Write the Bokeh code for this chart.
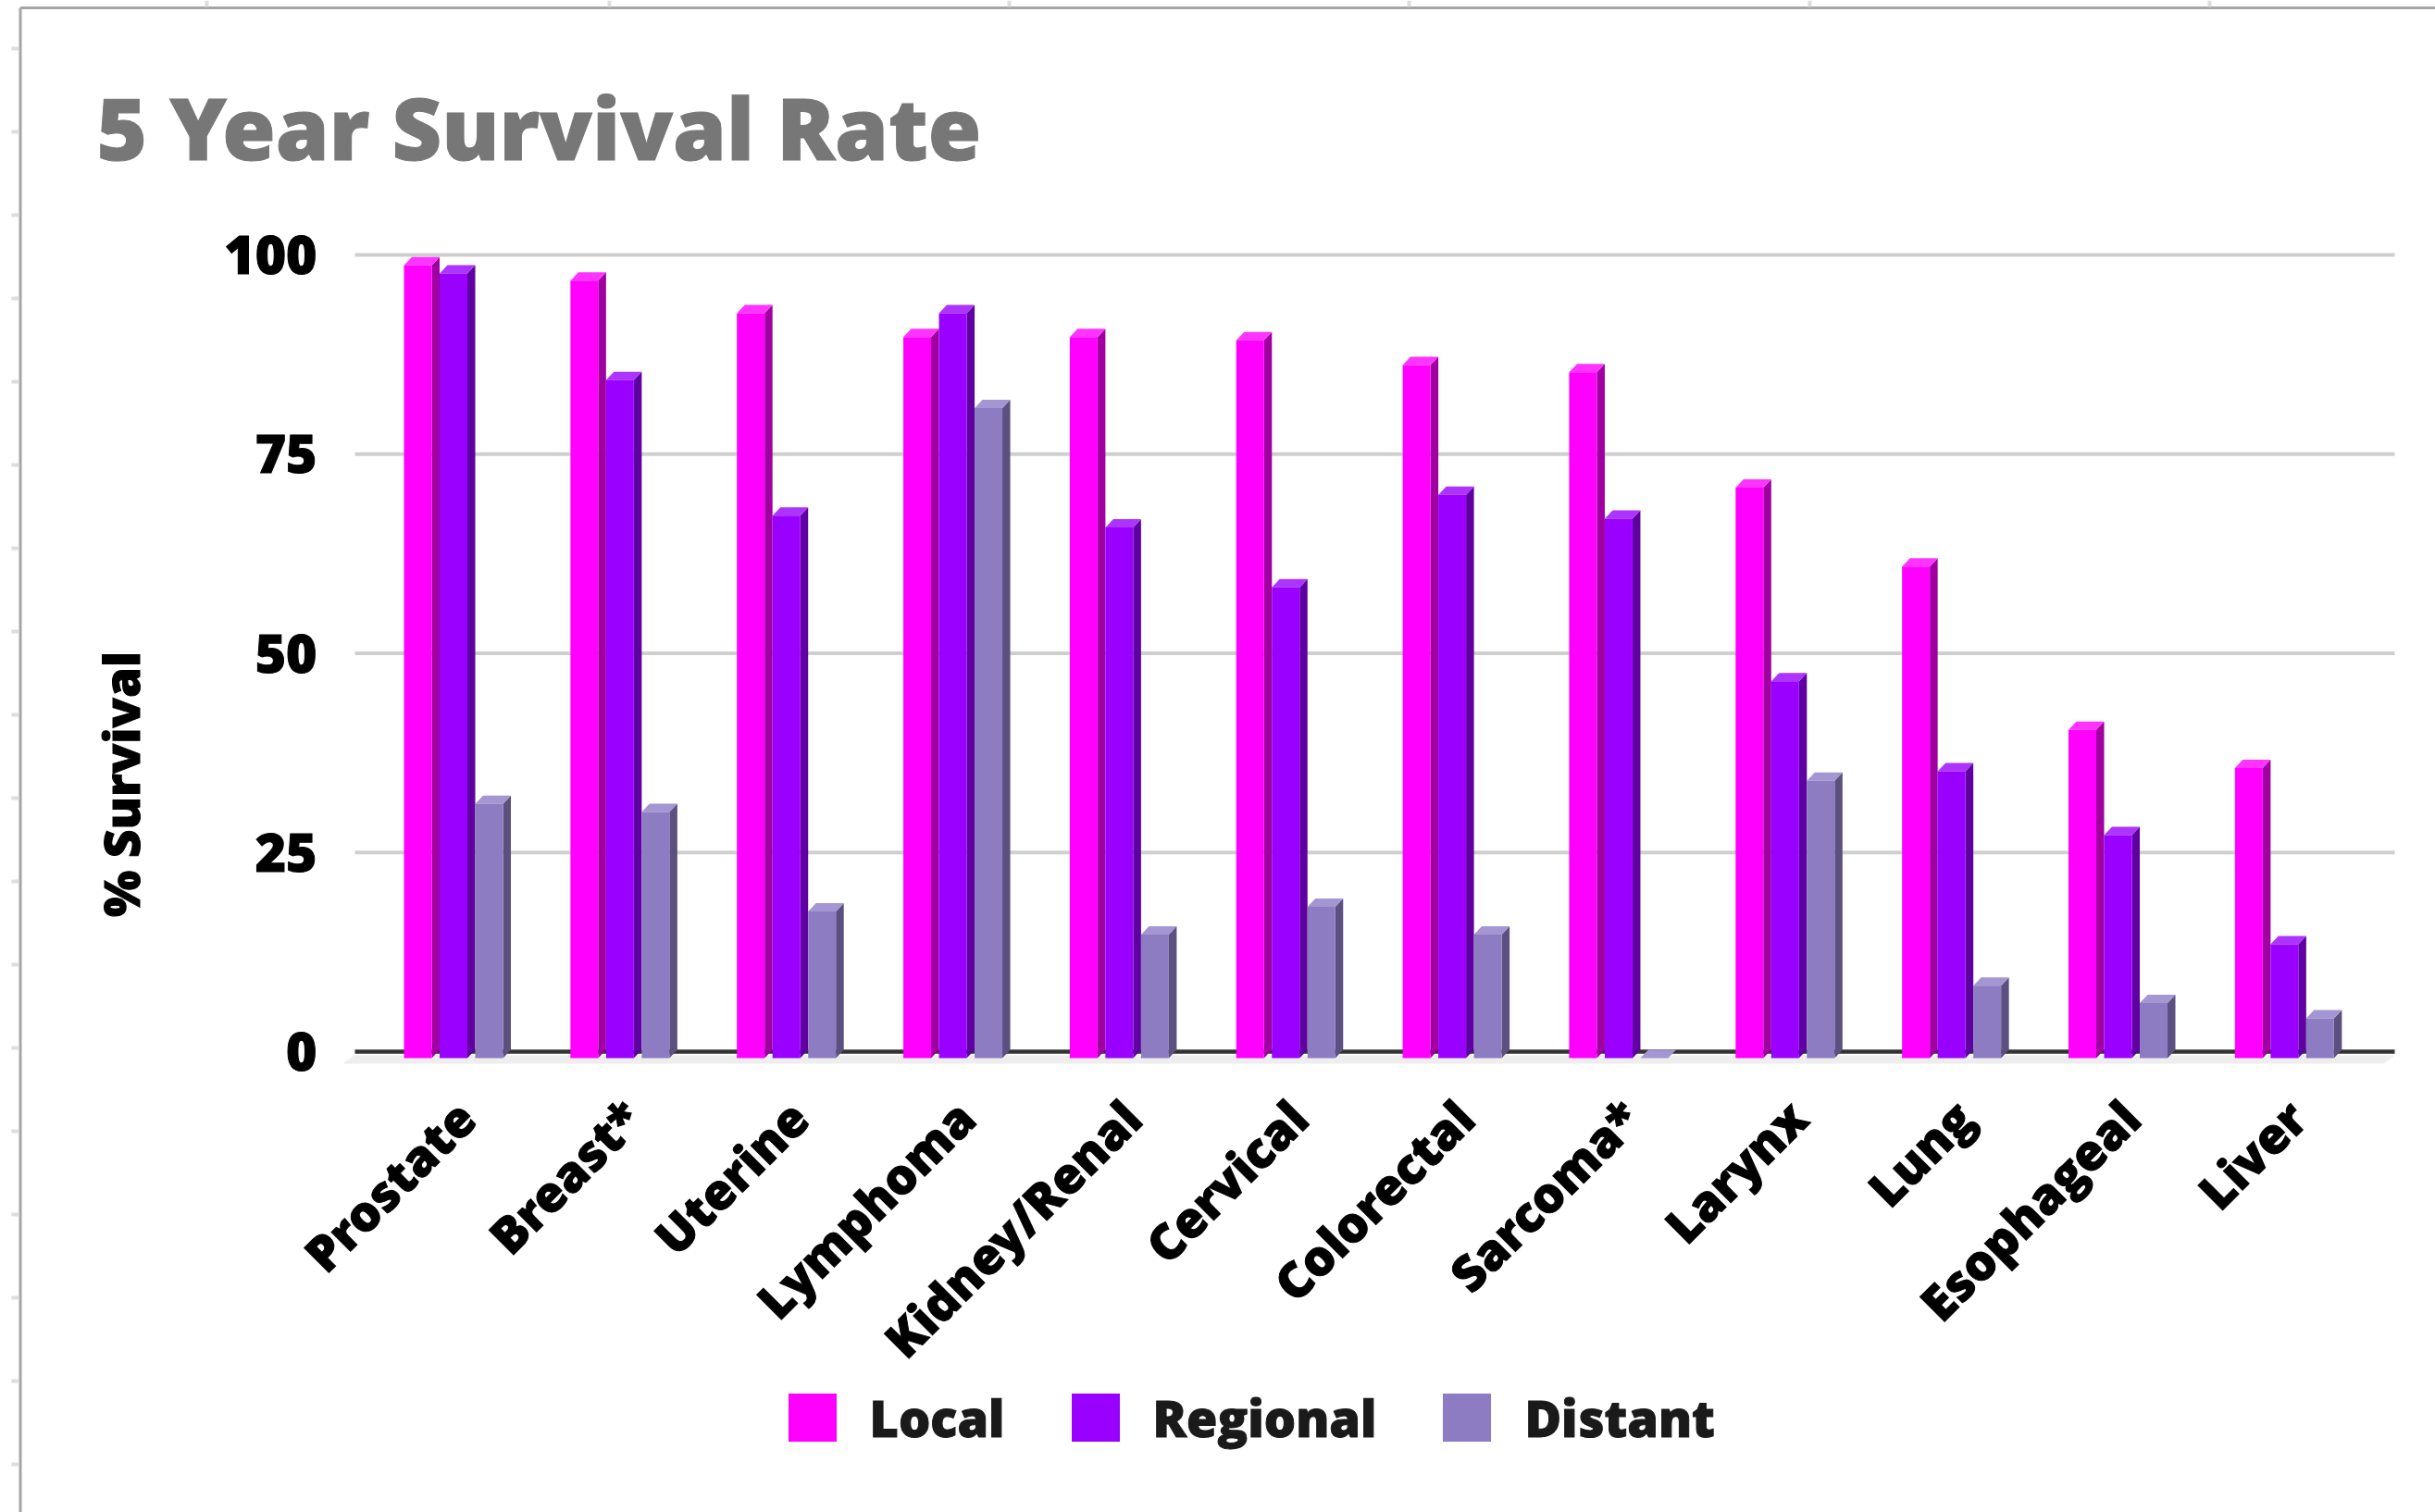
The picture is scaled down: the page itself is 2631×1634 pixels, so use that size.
from bokeh.plotting import figure
from bokeh.models import (Range1d, LinearAxis, FixedTicker, Label, Legend, LegendItem, ColumnDataSource)
from bokeh.embed import file_html
from bokeh.resources import INLINE
import math

categories = ["Prostate", "Breast*", "Uterine", "Lymphoma", "Kidney/Renal", "Cervical",
              "Colorectal", "Sarcoma*", "Larynx", "Lung", "Esophageal", "Liver"]
local = [99.5, 97.6, 93.5, 90.5, 90.5, 90.1, 87.0, 86.1, 71.6, 61.7, 41.2, 36.4]
regional = [98.5, 85.1, 68.1, 93.5, 66.6, 59.1, 70.7, 67.7, 47.3, 36.0, 28.0, 14.3]
distant = [31.9, 30.9, 18.4, 81.6, 15.5, 19.0, 15.5, 0.0, 34.8, 9.1, 6.9, 5.0]
y_ticks = [0, 25, 50, 75, 100]
series = [("Local", local, "#ff00ff", "#a000a0", "#ff33ff"),
          ("Regional", regional, "#9900ff", "#5f00a0", "#ad33ff"),
          ("Distant", distant, "#8e7cc3", "#5b5080", "#a496d2")]

W, H = 2631, 1634
PX_X, PX_Y = 179.85, 8.61          # pixels per group, pixels per percentage point
X0, Y0 = 503.0, 1136.0             # pixel position of group 0 label anchor, of value 0
FONT = "Open Sans ExtraBold"

def dx(px):
    return (px - X0) / PX_X

def dy(py):
    return (Y0 - py) / PX_Y

p = figure(width=W, height=H, output_backend="svg", toolbar_location=None,
           x_range=Range1d(dx(0), dx(W)), y_range=Range1d(dy(H), dy(0)),
           x_axis_location=None, y_axis_location=None, min_border=0,
           outline_line_color=None, background_fill_color="white", border_fill_color="white")
p.grid.visible = False

# page furniture of the source spreadsheet
p.segment(x0=[dx(21.5)], y0=[dy(8)], x1=[dx(W)], y1=[dy(8)], line_color="#a5a5a5", line_width=3)
p.segment(x0=[dx(21.5)], y0=[dy(8)], x1=[dx(21.5)], y1=[dy(H)], line_color="#a5a5a5", line_width=3)
left_ys = [52 + 90 * k for k in range(18)]
p.segment(x0=[dx(12)] * 18, y0=[dy(v) for v in left_ys], x1=[dx(20)] * 18, y1=[dy(v) for v in left_ys],
          line_color="#dddddd", line_width=4)
top_xs = [223, 658, 1090, 1522, 1955, 2387]
p.segment(x0=[dx(v) for v in top_xs], y0=[dy(0)] * 6, x1=[dx(v) for v in top_xs], y1=[dy(7)] * 6,
          line_color="#dddddd", line_width=4)

# gridlines, floor, base line
grid_x0, grid_x1 = dx(383), dx(2587)
p.segment(x0=[grid_x0] * 4, y0=y_ticks[1:], x1=[grid_x1] * 4, y1=y_ticks[1:], line_color="#cfcfcf", line_width=4)
p.patch(x=[dx(382), dx(2587), dx(2575), dx(370)], y=[dy(1140), dy(1140), dy(1149), dy(1149)],
        fill_color="#eeeeee", line_color=None)
p.segment(x0=[grid_x0], y0=[0], x1=[grid_x1], y1=[0], line_color="#333333", line_width=4.5)

# 3-D bars
BAR = 30.0 / PX_X
DEPTH_X = 8.5 / PX_X
BASE = dy(1143)
BACK = dy(1134)
offsets = [dx(436), dx(474.5), dx(513)]
legend_items = []
for (name, vals, face, side, top), off in zip(series, offsets):
    lefts = [i + off for i in range(len(vals))]
    rights = [l + BAR for l in lefts]
    tops = [v + BASE for v in vals]
    backs = [v + BACK for v in vals]
    p.patches(xs=[[r, r + DEPTH_X, r + DEPTH_X, r] for r in rights],
              ys=[[BASE, BACK, b, t] for t, b in zip(tops, backs)],
              fill_color=side, line_color=None)
    p.patches(xs=[[l, r, r + DEPTH_X, l + DEPTH_X] for l, r in zip(lefts, rights)],
              ys=[[t, t, b, b] for t, b in zip(tops, backs)],
              fill_color=top, line_color=None)
    src = ColumnDataSource(dict(left=lefts, right=rights, top=tops, bottom=[BASE] * len(vals)))
    r = p.quad(left="left", right="right", top="top", bottom="bottom", source=src,
               fill_color=face, line_color=None)
    legend_items.append(LegendItem(label=name, renderers=[r]))

# axes
yaxis = LinearAxis(fixed_location=dx(383), ticker=FixedTicker(ticks=y_ticks), bounds=(dy(1419), 100),
                   axis_line_color=None, major_tick_line_color=None, minor_tick_line_color=None,
                   major_label_standoff=35, major_label_text_font=FONT, major_label_text_font_style="bold",
                   major_label_text_font_size="57px", major_label_text_color="#000000",
                   major_label_text_outline_color="#000000",
                   axis_label="% Survival", axis_label_standoff=72, axis_label_text_font=FONT,
                   axis_label_text_font_style="bold", axis_label_text_font_size="53px",
                   axis_label_text_color="#000000", axis_label_text_outline_color="#000000")
p.add_layout(yaxis, "left")

xaxis = LinearAxis(fixed_location=dy(1180), ticker=FixedTicker(ticks=list(range(len(categories)))),
                   major_label_overrides={i: c for i, c in enumerate(categories)},
                   major_label_orientation=math.pi / 4,
                   axis_line_color=None, major_tick_line_color=None, minor_tick_line_color=None,
                   major_label_standoff=12, major_label_text_font=FONT, major_label_text_font_style="bold",
                   major_label_text_font_size="53px", major_label_text_color="#000000",
                   major_label_text_outline_color="#000000")
p.add_layout(xaxis, "below")

p.add_layout(Label(x=dx(104), y=dy(136), text="5 Year Survival Rate", text_font=FONT, text_font_style="bold",
                   text_font_size="93px", text_color="#777777", text_outline_color="#777777",
                   text_baseline="alphabetic"))

legend = Legend(items=legend_items, orientation="horizontal", location=(844.5, H - 1568.5),
                border_line_color=None, background_fill_alpha=0, padding=0, margin=0, spacing=65,
                glyph_width=65, glyph_height=65, label_standoff=30, label_text_font=FONT,
                label_text_font_style="bold", label_text_font_size="54px", label_text_color="#1a1a1a",
                label_text_outline_color="#1a1a1a", label_height=65)
p.add_layout(legend, "center")

open("out.html", "w").write(file_html(p, INLINE))
